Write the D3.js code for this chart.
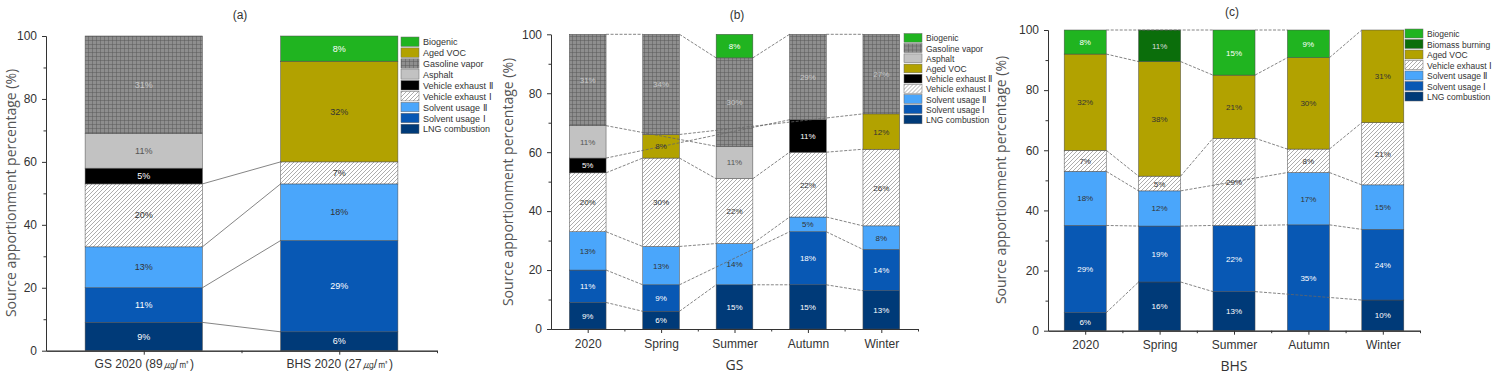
<!DOCTYPE html>
<html>
<head>
<meta charset="utf-8">
<script src="https://cdnjs.cloudflare.com/ajax/libs/d3/7.8.5/d3.min.js"></script>
<style>
  body { margin: 0; background: #fff; }
  text { font-family: "Liberation Sans", Arial, sans-serif; }
  .title-axis { font-family: "Open Sans", "Liberation Sans", sans-serif; }
</style>
</head>
<body>
<div id="plot"></div>
<script>
// ---- data (percent of source apportionment) ----
var catsA = ["GS 2020 (89㎍/㎥)", "BHS 2020 (27㎍/㎥)"];
var keysA = ["LNG combustion", "Solvent usage  Ⅰ", "Solvent usage  Ⅱ", "Vehicle exhaust  Ⅰ", "Vehicle exhaust  Ⅱ", "Asphalt", "Gasoline vapor", "Aged VOC", "Biogenic"];
var lngA = [9, 6];
var solv1A = [11, 29];
var solv2A = [13, 18];
var veh1A = [20, 7];
var veh2A = [5, 0];
var asphaltA = [11, 0];
var gasolineA = [31, 0];
var agedA = [0, 32];
var biogenicA = [0, 8];

var catsB = ["2020", "Spring", "Summer", "Autumn", "Winter"];
var keysB = ["LNG combustion", "Solvent usage  Ⅰ", "Solvent usage  Ⅱ", "Vehicle exhaust  Ⅰ", "Vehicle exhaust  Ⅱ", "Aged VOC", "Asphalt", "Gasoline vapor", "Biogenic"];
var lngB = [9, 6, 15, 15, 13];
var solv1B = [11, 9, 0, 18, 14];
var solv2B = [13, 13, 14, 5, 8];
var veh1B = [20, 30, 22, 22, 26];
var veh2B = [5, 0, 0, 11, 0];
var agedB = [0, 8, 0, 0, 12];
var asphaltB = [11, 0, 11, 0, 0];
var gasolineB = [31, 34, 30, 29, 27];
var biogenicB = [0, 0, 8, 0, 0];

var catsC = ["2020", "Spring", "Summer", "Autumn", "Winter"];
var keysC = ["LNG combustion", "Solvent usage  Ⅰ", "Solvent usage  Ⅱ", "Vehicle exhaust  Ⅰ", "Aged VOC", "Biomass burning", "Biogenic"];
var lngC = [6, 16.2, 13, 0, 10.2];
var solv1C = [29, 18.6, 22, 35.2, 23.5];
var solv2C = [18, 11.7, 0, 17.4, 14.8];
var veh1C = [7, 4.9, 29, 7.8, 20.7];
var agedC = [32, 38.1, 21, 30.4, 30.8];
var biomassC = [0, 10.5, 0, 0, 0];
var biogenicC = [8, 0, 15, 9.2, 0];

var yTicks = [0, 20, 40, 60, 80, 100];

// ---- styles ----
var fills = {
  "LNG combustion": "#003a78",
  "Solvent usage  Ⅰ": "#0858b4",
  "Solvent usage  Ⅱ": "#4aa6fb",
  "Vehicle exhaust  Ⅰ": "url(#hatch)",
  "Vehicle exhaust  Ⅱ": "#000000",
  "Asphalt": "#c2c2c2",
  "Gasoline vapor": "url(#grid)",
  "Aged VOC": "#b2a200",
  "Biomass burning": "#0b6e0b",
  "Biogenic": "#20b420"
};
var labelColor = {
  "LNG combustion": "#fff",
  "Solvent usage  Ⅰ": "#fff",
  "Solvent usage  Ⅱ": "#333",
  "Vehicle exhaust  Ⅰ": "#333",
  "Vehicle exhaust  Ⅱ": "#fff",
  "Asphalt": "#555",
  "Gasoline vapor": "#c8c8c8",
  "Aged VOC": "#333",
  "Biomass burning": "#ddd",
  "Biogenic": "#fff"
};

var svg = d3.select("#plot").append("svg")
  .attr("width", 1496)
  .attr("height", 376);

var defs = svg.append("defs");
var hatch = defs.append("pattern").attr("id", "hatch")
  .attr("patternUnits", "userSpaceOnUse").attr("width", 4).attr("height", 4);
hatch.append("rect").attr("width", 4).attr("height", 4).attr("fill", "#fff");
hatch.append("path").attr("d", "M-1,1 l2,-2 M0,4 l4,-4 M3,5 l2,-2")
  .attr("stroke", "#8a8a8a").attr("stroke-width", 0.7);
var grid = defs.append("pattern").attr("id", "grid")
  .attr("patternUnits", "userSpaceOnUse").attr("width", 4).attr("height", 4);
grid.append("rect").attr("width", 4).attr("height", 4).attr("fill", "#8e8e8e");
grid.append("path").attr("d", "M0,0 V4 M0,0 H4")
  .attr("stroke", "#555").attr("stroke-width", 0.9);

function drawPanel(cfg) {
  var n = cfg.cats.length;
  var rows = cfg.cats.map(function(c, i) {
    var r = { cat: c };
    cfg.keys.forEach(function(k, j) { r[k] = cfg.series[j][i]; });
    return r;
  });
  var stacked = d3.stack().keys(cfg.keys)(rows);

  var x = d3.scaleLinear().domain([0.5, n + 0.5]).range([cfg.left, cfg.right]);
  var y = d3.scaleLinear().domain([0, 100]).range([cfg.bottom, cfg.top]);
  var bw = (x(2) - x(1)) * cfg.barFrac;

  var g = svg.append("g");

  // bars
  stacked.forEach(function(layer) {
    layer.forEach(function(d, i) {
      if (d[1] - d[0] <= 0) return;
      g.append("rect")
        .attr("x", x(i + 1) - bw / 2)
        .attr("y", y(d[1]))
        .attr("width", bw)
        .attr("height", y(d[0]) - y(d[1]))
        .attr("fill", fills[layer.key])
        .attr("stroke", "#4a4a4a")
        .attr("stroke-width", 0.5);
    });
  });

  // connecting lines between series tops, skipping absent bars
  stacked.forEach(function(layer) {
    var idx = [];
    layer.forEach(function(d, i) { if (d[1] - d[0] > 0) idx.push(i); });
    for (var k = 0; k < idx.length - 1; k++) {
      var a = idx[k], b = idx[k + 1];
      g.append("line")
        .attr("x1", x(a + 1) + bw / 2)
        .attr("y1", y(layer[a][1]))
        .attr("x2", x(b + 1) - bw / 2)
        .attr("y2", y(layer[b][1]))
        .attr("stroke", "#666")
        .attr("stroke-width", 0.8)
        .attr("stroke-dasharray", cfg.dash);
    }
  });

  // segment labels
  stacked.forEach(function(layer) {
    layer.forEach(function(d, i) {
      var v = d[1] - d[0];
      if (v <= 0) return;
      g.append("text")
        .attr("x", x(i + 1))
        .attr("y", y((d[0] + d[1]) / 2) + 3)
        .attr("text-anchor", "middle")
        .attr("font-size", cfg.labelSize + "px")
        .attr("fill", labelColor[layer.key])
        .text(Math.round(v) + "%");
    });
  });

  // axes
  var yAxis = g.append("g").attr("transform", "translate(" + cfg.left + ",0)")
    .call(d3.axisLeft(y).tickValues(yTicks).tickSize(4).tickSizeOuter(0).tickPadding(5));
  g.append("g").attr("transform", "translate(" + cfg.left + ",0)")
    .call(d3.axisLeft(y).tickValues([10, 30, 50, 70, 90]).tickSize(2.5).tickFormat("").tickSizeOuter(0));
  var xAxis = g.append("g").attr("transform", "translate(0," + cfg.bottom + ")")
    .call(d3.axisBottom(x).tickValues(d3.range(1, n + 1)).tickSize(4).tickSizeOuter(0)
      .tickPadding(cfg.xPad).tickFormat(function(d) { return cfg.cats[d - 1]; }));
  g.append("g").attr("transform", "translate(0," + cfg.bottom + ")")
    .call(d3.axisBottom(x).tickValues(d3.range(1.5, n + 0.6, 1)).tickSize(2.5).tickFormat("").tickSizeOuter(0));
  g.selectAll(".domain, .tick line").attr("stroke", "#333");
  yAxis.selectAll("text").attr("font-size", "12px").attr("fill", "#333")
    .attr("font-family", "Liberation Sans, Arial, sans-serif");
  xAxis.selectAll("text").attr("font-size", "12px").attr("fill", "#333")
    .attr("font-family", "Liberation Sans, Arial, sans-serif");

  // titles
  g.append("text").attr("x", cfg.titleX).attr("y", cfg.titleY)
    .attr("text-anchor", "middle").attr("font-size", "12px").attr("fill", "#333")
    .text(cfg.title);
  g.append("text").attr("class", "title-axis")
    .attr("transform", "translate(" + cfg.yTitleX + "," + cfg.yTitleY + ") rotate(-90)")
    .attr("text-anchor", "middle").attr("font-size", "14px").attr("fill", "#555")
    .text("Source apportionment percentage (%)");
  if (cfg.xTitle) {
    g.append("text").attr("class", "title-axis")
      .attr("x", (cfg.left + cfg.right) / 2).attr("y", cfg.xTitleY)
      .attr("text-anchor", "middle").attr("font-size", "14px").attr("fill", "#333")
      .text(cfg.xTitle);
  }

  // legend (top of stack first)
  var leg = g.append("g").attr("transform", "translate(" + cfg.legX + "," + cfg.legY + ")");
  cfg.keys.slice().reverse().forEach(function(k, i) {
    leg.append("rect").attr("x", 0).attr("y", i * cfg.legStep)
      .attr("width", 18).attr("height", cfg.legStep - 1.5)
      .attr("fill", fills[k]).attr("stroke", "#666").attr("stroke-width", 0.5);
    leg.append("text").attr("x", 22).attr("y", i * cfg.legStep + cfg.legStep / 2 + 2.8)
      .attr("font-size", cfg.legSize + "px").attr("fill", "#333")
      .text(k);
  });
}

drawPanel({
  cats: catsA, keys: keysA,
  series: [lngA, solv1A, solv2A, veh1A, veh2A, asphaltA, gasolineA, agedA, biogenicA],
  left: 46, right: 437, top: 36, bottom: 350.7, barFrac: 0.6, dash: null,
  labelSize: 9, xPad: 5, title: "(a)", titleX: 240, titleY: 19,
  yTitleX: 16, yTitleY: 193, xTitle: null,
  legX: 401, legY: 37, legStep: 10.9, legSize: 9
});

drawPanel({
  cats: catsB, keys: keysB,
  series: [lngB, solv1B, solv2B, veh1B, veh2B, agedB, asphaltB, gasolineB, biogenicB],
  left: 551, right: 918, top: 34.3, bottom: 329, barFrac: 0.5, dash: "3,1.5",
  labelSize: 8, xPad: 6, title: "(b)", titleX: 737, titleY: 19,
  yTitleX: 513, yTitleY: 182, xTitle: "GS", xTitleY: 370,
  legX: 904, legY: 33.5, legStep: 10.2, legSize: 8.5
});

drawPanel({
  cats: catsC, keys: keysC,
  series: [lngC, solv1C, solv2C, veh1C, agedC, biomassC, biogenicC],
  left: 1048, right: 1420, top: 30, bottom: 330.7, barFrac: 0.565, dash: "3,1.5",
  labelSize: 8, xPad: 6, title: "(c)", titleX: 1232, titleY: 16,
  yTitleX: 1006, yTitleY: 180, xTitle: "BHS", xTitleY: 371,
  legX: 1405, legY: 29, legStep: 10.5, legSize: 8.5
});
</script>
</body>
</html>
